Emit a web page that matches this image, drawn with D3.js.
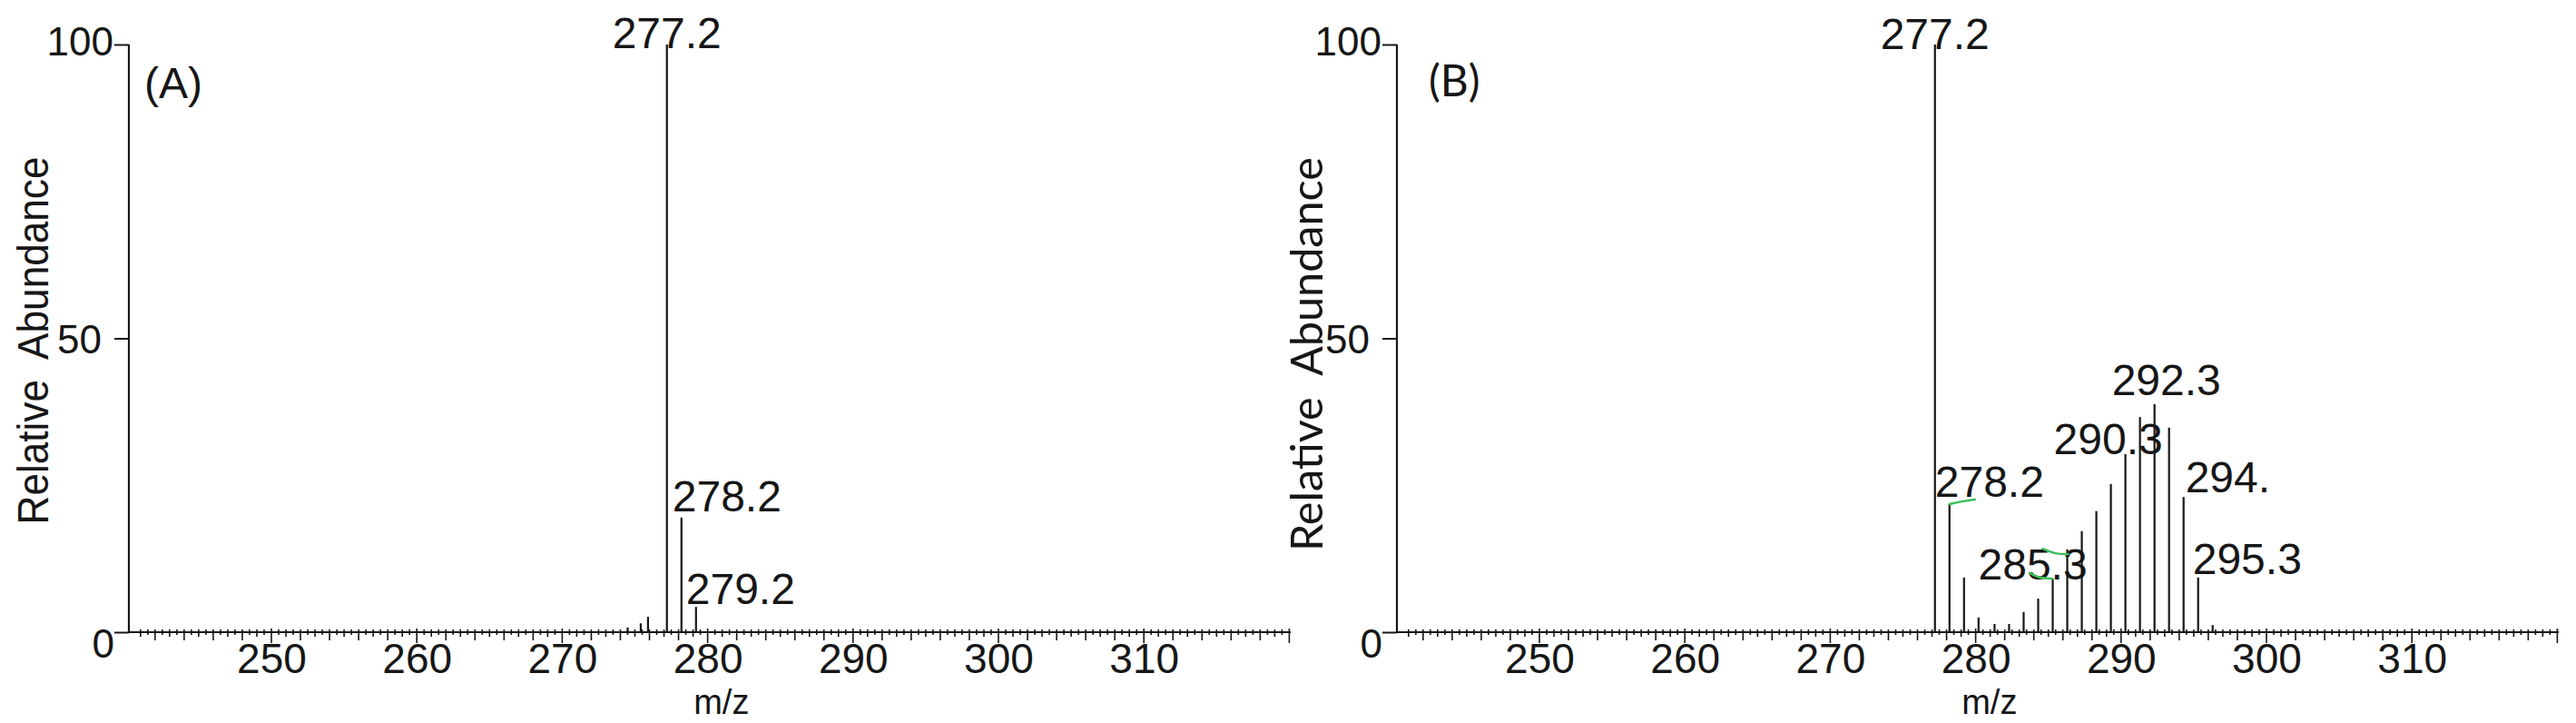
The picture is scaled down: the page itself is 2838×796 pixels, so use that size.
<!DOCTYPE html>
<html>
<head>
<meta charset="utf-8">
<script src="https://cdn.jsdelivr.net/npm/d3@7"></script>
<style>
  html, body { margin: 0; padding: 0; background: #ffffff; }
  svg { display: block; }
</style>
</head>
<body>
<svg id="chart" width="2838" height="796"></svg>
<script>
// ---------------- DATA ----------------
const panelTags = ["(A)", "(B)"];
const xTitle = "m/z";
const yTitle = "Relative  Abundance";
const xDomain = [240.2, 320.1];
const yDomain = [0, 100];
const xTickValues = [250, 260, 270, 280, 290, 300, 310];
const yTickValues = [0, 50, 100];

// Panel A spectrum (m/z, relative abundance %)
const mzA = [274.5, 275.4, 275.9, 277.2, 278.2, 279.2];
const abA = [0.8, 1.5, 2.6, 100, 19.5, 4.3];
const peakLabelsA = ["277.2", "278.2", "279.2"];
const peakLabelMzA = [277.2, 278.2, 279.2];

// Panel B spectrum
const mzB = [277.2, 278.2, 279.2, 280.2, 281.3, 282.3, 283.3, 284.3, 285.3, 286.3,
             287.3, 288.3, 289.3, 290.3, 291.3, 292.3, 293.3, 294.3, 295.3, 296.3];
const abB = [100, 21.8, 9.3, 2.5, 1.4, 1.4, 3.4, 5.7, 9.1, 14.1,
             17.2, 20.6, 25.2, 30.3, 36.6, 38.8, 34.8, 23.0, 9.3, 1.2];
const peakLabelsB = ["277.2", "278.2", "285.3", "290.3", "292.3", "294.", "295.3"];
const peakLabelMzB = [277.2, 278.2, 285.3, 290.3, 292.3, 294.3, 295.3];

// ---------------- LAYOUT / STYLE ----------------
const W = 2838, H = 796;
const ink = "#161616";
const numFont = "'Liberation Sans', Arial, Helvetica, sans-serif";
const layout = [
  { left: 142, right: 1422, top: 49, bottom: 696,
    titleX: 53, titleY: 375, titleLen: 405, titleFont: numFont, titleSize: 48,
    tagX: 159, tagY: 108, tagFont: numFont, tagSize: 48,
    // label offsets relative to peak (px): [anchor, dx, dy]
    labelPos: [["middle", 0, 4], ["start", -10, -7], ["start", -11, -3]] },
  { left: 1539, right: 2819, top: 49, bottom: 696,
    titleX: 1457, titleY: 390, titleLen: 434, titleFont: "Lato, 'Open Sans', sans-serif", titleSize: 48,
    tagX: 1574, tagY: 106, tagFont: "Lato, 'Open Sans', sans-serif", tagSize: 48,
    labelPos: [["middle", 0, 5], ["start", -16, -8], ["start", -82, 1], ["start", -79, 0],
               ["start", -47, -10], ["start", 2, -5], ["start", -6, -4]] }
];
const yLabelShift = { 0: { dx: 14, dy: 12 }, 50: { dx: 0, dy: 0 }, 100: { dx: 13, dy: -4 } };

const panels = [
  { mz: mzA, ab: abA, labels: peakLabelsA, labelMz: peakLabelMzA, tag: panelTags[0] },
  { mz: mzB, ab: abB, labels: peakLabelsB, labelMz: peakLabelMzB, tag: panelTags[1] }
];

const svg = d3.select("#chart");
svg.append("rect").attr("width", W).attr("height", H).attr("fill", "#fff");

panels.forEach((p, i) => {
  const L = layout[i];
  const x = d3.scaleLinear().domain(xDomain).range([L.left, L.right]);
  const y = d3.scaleLinear().domain(yDomain).range([L.bottom, L.top]);
  const g = svg.append("g");

  // --- minor ticks on x axis (drawn from scale) ---
  const half = d3.range(241, 320.01, 0.5);
  g.append("g").selectAll("line").data(half).join("line")
    .attr("x1", d => x(d)).attr("x2", d => x(d))
    .attr("y1", d => (d % 10 === 0 ? L.bottom - 4 : L.bottom - 3))
    .attr("y2", d => {
      if (d % 10 === 0) return L.bottom + 12;
      if (d % 2 === 0) return L.bottom + 9;
      if (d % 1 === 0) return L.bottom + 5;
      return L.bottom + 3;
    })
    .attr("stroke", ink).attr("stroke-width", 1.6);

  // --- x axis with major tick labels ---
  const xAxis = d3.axisBottom(x).tickValues(xTickValues).tickSize(0).tickFormat(d3.format("d"));
  const gx = g.append("g").attr("transform", `translate(0,${L.bottom})`).call(xAxis);
  gx.select(".domain").remove();
  gx.selectAll("text")
    .attr("y", 45).attr("dy", null)
    .attr("fill", ink)
    .style("font-family", numFont).style("font-size", "46px");

  // axis baseline
  g.append("line")
    .attr("x1", x(xDomain[0])).attr("x2", x(xDomain[1]))
    .attr("y1", L.bottom).attr("y2", L.bottom)
    .attr("stroke", ink).attr("stroke-width", 2.2);

  // --- y axis ---
  const yAxis = d3.axisLeft(y).tickValues(yTickValues).tickSize(16).tickPadding(14).tickFormat(d3.format("d"));
  const gy = g.append("g").attr("transform", `translate(${L.left},0)`).call(yAxis);
  gy.select(".domain").remove();
  gy.selectAll("line").attr("stroke", ink).attr("stroke-width", 2);
  gy.selectAll("text")
    .attr("fill", ink)
    .attr("dy", null)
    .attr("dominant-baseline", "central")
    .attr("x", d => -30 + yLabelShift[d].dx)
    .attr("y", d => yLabelShift[d].dy)
    .style("font-family", numFont).style("font-size", "44px");
  g.append("line")
    .attr("x1", L.left).attr("x2", L.left)
    .attr("y1", y(yDomain[0])).attr("y2", y(yDomain[1]))
    .attr("stroke", ink).attr("stroke-width", 2.2);

  // --- peaks ---
  const data = p.mz.map((m, k) => ({ mz: m, ab: p.ab[k] }));
  g.append("g").selectAll("line").data(data).join("line")
    .attr("x1", d => x(d.mz)).attr("x2", d => x(d.mz))
    .attr("y1", y(0)).attr("y2", d => y(d.ab))
    .attr("stroke", ink).attr("stroke-width", 2.2);

  // --- peak labels ---
  const lab = p.labels.map((t, k) => {
    const m = p.labelMz[k];
    const idx = p.mz.indexOf(m);
    return { text: t, mz: m, ab: p.ab[idx], pos: L.labelPos[k] };
  });
  g.append("g").selectAll("text").data(lab).join("text")
    .attr("x", d => x(d.mz) + d.pos[1])
    .attr("y", d => y(d.ab) + d.pos[2])
    .attr("text-anchor", d => d.pos[0])
    .attr("fill", ink)
    .style("font-family", numFont).style("font-size", "48px")
    .text(d => d.text);

  // --- titles ---
  g.append("text")
    .attr("transform", `translate(${L.titleX},${L.titleY}) rotate(-90)`)
    .attr("text-anchor", "middle")
    .attr("textLength", L.titleLen).attr("lengthAdjust", "spacingAndGlyphs")
    .attr("fill", ink)
    .style("font-family", L.titleFont).style("font-size", L.titleSize + "px")
    .style("white-space", "pre")
    .text(yTitle);

  g.append("text")
    .attr("x", L.left + (L.right - L.left) * 0.51)
    .attr("y", 786)
    .attr("text-anchor", "middle")
    .attr("fill", ink)
    .style("font-family", numFont).style("font-size", "38px")
    .text(xTitle);

  g.append("text")
    .attr("x", L.tagX).attr("y", L.tagY)
    .attr("fill", ink)
    .style("font-family", L.tagFont).style("font-size", L.tagSize + "px")
    .text(p.tag);

  // --- hand-drawn green annotation strokes (panel B only) ---
  if (i === 1) {
    const line = d3.line().curve(d3.curveBasis);
    const px = m => x(m), py = m => y(p.ab[p.mz.indexOf(m)]);
    const marks = [
      [[px(278.2), py(278.2)], [px(278.2) + 14, py(278.2) - 3], [px(278.2) + 28, py(278.2) - 5]],
      [[px(285.3) - 11, py(285.3) - 33], [px(285.3) + 3, py(285.3) - 27], [px(285.3) + 17, py(285.3) - 27]],
      [[px(285.3) - 25, py(285.3) - 6], [px(285.3) - 16, py(285.3) - 1], [px(285.3), py(285.3)]]
    ];
    g.append("g").selectAll("path").data(marks).join("path")
      .attr("d", d => line(d))
      .attr("fill", "none").attr("stroke", "#3cbf5a").attr("stroke-width", 2.5)
      .attr("stroke-linecap", "round");
  }
});
</script>
</body>
</html>
